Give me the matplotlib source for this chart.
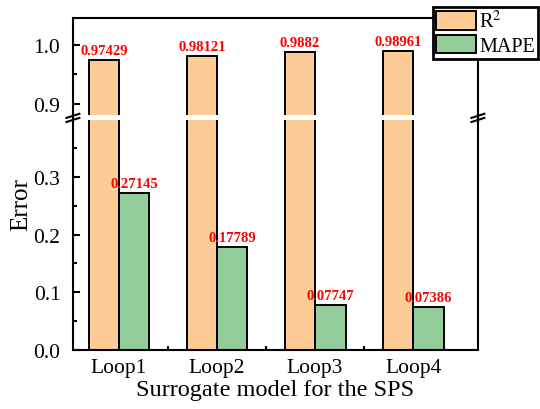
import matplotlib
matplotlib.use("Agg")
from matplotlib import pyplot as plt
from matplotlib.ticker import MultipleLocator, FixedLocator, FormatStrFormatter
import numpy as np

loops = ['Loop1', 'Loop2', 'Loop3', 'Loop4']
r2 = [0.97429, 0.98121, 0.9882, 0.98961]
mape = [0.27145, 0.17789, 0.07747, 0.07386]
r2_labels = ['0.97429', '0.98121', '0.9882', '0.98961']
mape_labels = ['0.27145', '0.17789', '0.07747', '0.07386']

plt.rcParams['font.family'] = ['Liberation Serif', 'DejaVu Serif']
plt.rcParams['mathtext.fontset'] = 'stix'

c_r2 = '#FDCB95'
c_mape = '#93CD99'
w = 0.31
x = np.arange(1, len(loops) + 1)

fig = plt.figure(figsize=(5.4, 4.1), dpi=100)
ax_top = fig.add_axes([0.135, 0.717, 0.75, 0.237])
ax_bot = fig.add_axes([0.135, 0.144, 0.75, 0.561])

for ax in (ax_top, ax_bot):
    ax.bar(x - w / 2, r2, w, color=c_r2, edgecolor='black', linewidth=1.4, label='R$^2$')
    ax.bar(x + w / 2, mape, w, color=c_mape, edgecolor='black', linewidth=1.4, label='MAPE')
    ax.set_xlim(0.53, 4.66)
    for s in ax.spines.values():
        s.set_linewidth(1.5)
    ax.tick_params(axis='y', which='major', direction='in', length=5, width=1.5,
                   labelsize=15.5, pad=9)
    ax.tick_params(axis='y', which='minor', direction='in', length=3, width=1.5)
    ax.yaxis.set_major_locator(MultipleLocator(0.1))
    ax.yaxis.set_minor_locator(MultipleLocator(0.05))
    ax.yaxis.set_major_formatter(FormatStrFormatter('%.1f'))

ax_top.set_ylim(0.881, 1.046)
ax_bot.set_ylim(0, 0.3986)
ax_top.spines['bottom'].set_visible(False)
ax_bot.spines['top'].set_visible(False)
ax_top.tick_params(axis='x', which='both', bottom=False, labelbottom=False)

ax_bot.set_xticks(x)
ax_bot.set_xticklabels(loops)
ax_bot.tick_params(axis='x', which='major', length=0, labelsize=15.5, pad=6)
ax_bot.xaxis.set_minor_locator(FixedLocator([1.5, 2.5, 3.5]))
ax_bot.tick_params(axis='x', which='minor', direction='in', length=3, width=1.5)
ax_bot.set_xlabel('Surrogate model for the SPS', fontsize=17.5, labelpad=1)
fig.text(0.04, 0.5, 'Error', rotation=90, fontsize=18, va='center', ha='center')

for xi, v, t in zip(x, r2, r2_labels):
    ax_top.text(xi - w / 2, v + 0.005, t, color='red', fontsize=10.5, fontweight='bold',
                ha='center', va='bottom')
for xi, v, t in zip(x, mape, mape_labels):
    ax_bot.text(xi + w / 2, v + 0.006, t, color='red', fontsize=10.5, fontweight='bold',
                ha='center', va='bottom')

# break marks
for xf in (0.135, 0.885):
    for dy in (-0.006, 0.004):
        fig.add_artist(plt.Line2D([xf - 0.012, xf + 0.012], [0.706 + dy, 0.716 + dy],
                                  color='black', linewidth=1.5, transform=fig.transFigure))
    fig.add_artist(plt.Line2D([xf, xf], [0.70, 0.72], color='black', linewidth=1.5,
                              transform=fig.transFigure))

leg = fig.legend(*ax_bot.get_legend_handles_labels(), loc='upper right',
                 bbox_to_anchor=(0.996, 0.98), fontsize=14.5, frameon=True, fancybox=False,
                 edgecolor='black', handlelength=2.0, handleheight=1.05, handletextpad=0.15,
                 borderpad=0.15, labelspacing=0.12, borderaxespad=0)
leg.get_frame().set_linewidth(2)
leg.get_frame().set_alpha(1)

fig.savefig('out.png', dpi=100)
